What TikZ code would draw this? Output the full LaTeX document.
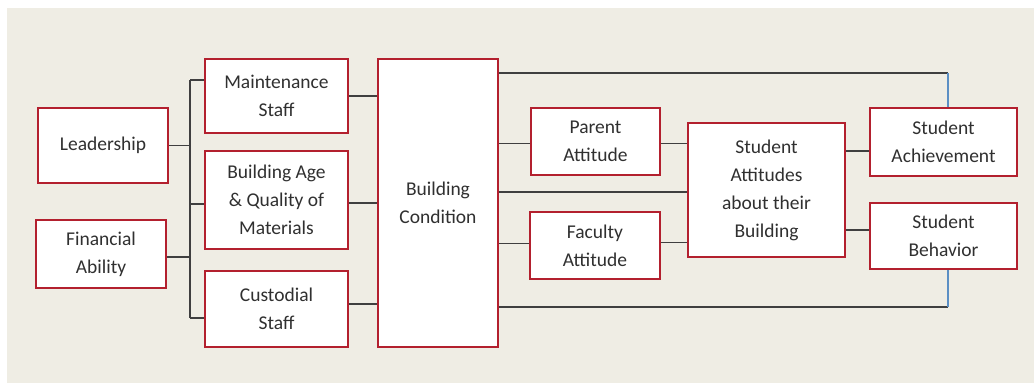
\documentclass[tikz,border=0pt]{standalone}
\usepackage{fontspec}
\setmainfont{Carlito}
\definecolor{bgbeige}{HTML}{EFEDE4}
\definecolor{boxred}{HTML}{B3202E}
\definecolor{linegray}{HTML}{3F3F3F}
\definecolor{lineblue}{HTML}{5B8FC4}
\definecolor{txtgray}{HTML}{303030}
\begin{document}
\begin{tikzpicture}[x=1pt,y=-1pt,
  box/.style={draw=boxred, line width=2.2pt, fill=white, align=center,
    inner sep=2pt, text=txtgray,
    font=\fontsize{19.5}{28}\selectfont},
  conn/.style={draw=linegray, line width=1.6pt},
  bconn/.style={draw=lineblue, line width=1.6pt}]
\useasboundingbox (0,0) rectangle (1034,383);
\fill[white] (0,0) rectangle (1034,383);
\fill[bgbeige] (7,8) rectangle (1034,383);

\node[box, minimum width=130pt, minimum height=75pt] (lead) at (103,145.5) {Leadership};
\node[box, minimum width=130pt, minimum height=68pt] (fin) at (101,254) {Financial\\Ability};
\node[box, minimum width=143pt, minimum height=74pt] (maint) at (276.5,96) {Maintenance\\Staff};
\node[box, minimum width=143pt, minimum height=98pt] (age) at (276.5,200) {Building Age\\\& Quality of\\Materials};
\node[box, minimum width=143pt, minimum height=76pt] (cust) at (276.5,309) {Custodial\\Staff};
\node[box, minimum width=120pt, minimum height=288pt] (bc) at (438,203) {Building\\Condition};
\node[box, minimum width=129pt, minimum height=67pt] (parent) at (595.5,141.5) {Parent\\Attitude};
\node[box, minimum width=130pt, minimum height=67pt] (fac) at (595,245.5) {Faculty\\Attitude};
\node[box, minimum width=157pt, minimum height=134pt] (sa) at (766.5,190) {Student\\Attitudes\\about their\\Building};
\node[box, minimum width=147pt, minimum height=68pt] (ach) at (943.5,142) {Student\\Achievement};
\node[box, minimum width=147pt, minimum height=66pt] (beh) at (943.5,236) {Student\\Behavior};

% left bus
\coordinate (busT) at (190,80);
\coordinate (busB) at (190,318);
\draw[conn] (busT) -- (busB);
\draw[conn] (lead.east) -- (lead.east -| busT);
\draw[conn] ([yshift=-3pt]fin.east) -- ([yshift=-3pt]fin.east -| busT);
\draw[conn] (busT) -- (busT -| maint.west);
\draw[conn] ([yshift=-4pt]age.west) -- ([yshift=-4pt]age.west -| busT);
\draw[conn] (busB) -- (busB -| cust.west);

% into building condition
\draw[conn] (maint.east) -- (maint.east -| bc.west);
\draw[conn] ([yshift=-3pt]age.east) -- ([yshift=-3pt]age.east -| bc.west);
\draw[conn] ([yshift=5pt]cust.east) -- ([yshift=5pt]cust.east -| bc.west);

% out of building condition
\coordinate (tr) at (948,73);
\coordinate (br) at (948,307);
\draw[conn] (bc.east |- tr) -- (tr);
\draw[bconn] (tr) -- (ach.north -| tr);
\draw[conn] (bc.east |- br) -- (br);
\draw[bconn] (br) -- (beh.south -| br);
\draw[conn] ([yshift=-2pt]parent.west) -- ([yshift=-2pt]parent.west -| bc.east);
\draw[conn] ([yshift=-2pt]sa.west) -- ([yshift=-2pt]sa.west -| bc.east);
\draw[conn] ([yshift=2pt]fac.west) -- ([yshift=2pt]fac.west -| bc.east);
\draw[conn] ([yshift=-2pt]parent.east) -- ([yshift=-2pt]parent.east -| sa.west);
\draw[conn] ([yshift=3pt]fac.east) -- ([yshift=3pt]fac.east -| sa.west);
\draw[conn] ([yshift=-9pt]ach.west) -- ([yshift=-9pt]ach.west -| sa.east);
\draw[conn] ([yshift=6pt]beh.west) -- ([yshift=6pt]beh.west -| sa.east);
\end{tikzpicture}
\end{document}
